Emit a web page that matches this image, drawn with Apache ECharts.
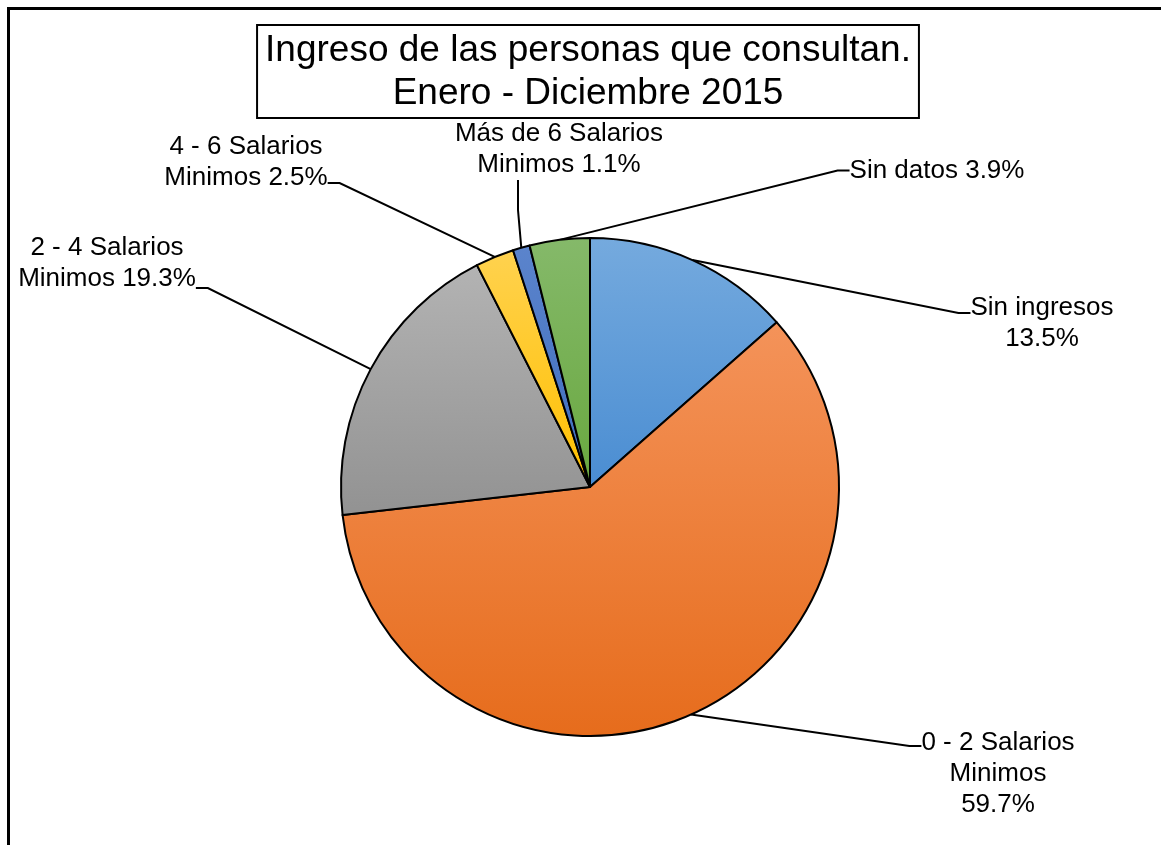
<!DOCTYPE html>
<html>
<head>
<meta charset="utf-8">
<script src="https://cdn.jsdelivr.net/npm/echarts@6/dist/echarts.min.js"></script>
<style>
  html, body { margin: 0; padding: 0; background: #fff; }
  #frame {
    position: absolute; left: 7px; top: 7px; width: 1151px; height: 845px;
    border-top: 3px solid #000; border-left: 3px solid #000;
  }
  #chart { position: absolute; left: 0; top: 0; width: 1162px; height: 845px; }
</style>
</head>
<body>
<div id="frame"></div>
<div id="chart"></div>
<script>
// Datos del gráfico
const categorias = [
  "Sin ingresos",
  "0 - 2 Salarios Minimos",
  "2 - 4 Salarios Minimos",
  "4 - 6 Salarios Minimos",
  "Más de 6 Salarios Minimos",
  "Sin datos"
];
const etiquetas = [
  "Sin ingresos\n",
  "0 - 2 Salarios\nMinimos\n",
  "2 - 4 Salarios\nMinimos ",
  "4 - 6 Salarios\nMinimos ",
  "Más de 6 Salarios\nMinimos ",
  "Sin datos "
];
const porcentajes = [13.5, 59.7, 19.3, 2.5, 1.1, 3.9];

// Colores estilo Excel (claro arriba, oscuro abajo)
const colores = [
  ["#75aade", "#4a8dd2"],
  ["#f4935a", "#e66c1c"],
  ["#b3b3b3", "#929292"],
  ["#ffd24f", "#ffc000"],
  ["#5b84cc", "#3f6dbe"],
  ["#85b96a", "#69a83f"]
];

// Posición de cada etiqueta: [centro x, borde superior de la caja]
const posEtiquetas = [
  [1042, 272],
  [998, 672],
  [107, 232],
  [246, 131],
  [518, 118],
  [937, 155]
];
// Relleno [arriba, derecha, abajo, izquierda] para ajustar el punto de la línea guía
const rellenoEtiquetas = [
  [20, 0, 0, 0],
  [55, 0, 0, 0],
  [0, 0, 50, 0],
  [0, 0, 42, 0],
  [0, 0, 0, 82],
  [0, 0, 0, 0]
];
const largoGuia = [12, 12, 12, 12, 30, 12];

const chart = echarts.init(document.getElementById("chart"));

const option = {
  animation: false,
  graphic: [
    {
      type: "text",
      x: 588,
      y: 25,
      style: {
        text: "Ingreso de las personas que consultan.\nEnero - Diciembre 2015",
        align: "center",
        verticalAlign: "top",
        font: "37px 'Liberation Sans', Arial, sans-serif",
        lineHeight: 43,
        fill: "#000",
        borderColor: "#000",
        borderWidth: 2,
        padding: [4, 8, 3, 8]
      }
    }
  ],
  series: [
    {
      type: "pie",
      center: [590, 487],
      radius: 249,
      startAngle: 90,
      clockwise: true,
      itemStyle: { borderColor: "#000", borderWidth: 2 },
      label: {
        show: true,
        color: "#000",
        fontFamily: "'Liberation Sans', Arial, sans-serif",
        fontSize: 26,
        lineHeight: 31,
        align: "center",
        formatter: function (p) {
          return etiquetas[p.dataIndex] + porcentajes[p.dataIndex].toFixed(1) + "%";
        }
      },
      labelLine: {
        show: true,
        length: 20,
        length2: 12,
        smooth: false,
        lineStyle: { color: "#000", width: 2 }
      },
      labelLayout: function (params) {
        const pos = posEtiquetas[params.dataIndex];
        return {
          x: pos[0],
          y: pos[1],
          align: "center",
          verticalAlign: "top"
        };
      },
      data: categorias.map(function (nombre, i) {
        return {
          name: nombre,
          value: porcentajes[i],
          label: { padding: rellenoEtiquetas[i] },
          labelLine: { length2: largoGuia[i] },
          itemStyle: {
            color: new echarts.graphic.LinearGradient(0, 0, 0, 1, [
              { offset: 0, color: colores[i][0] },
              { offset: 1, color: colores[i][1] }
            ])
          }
        };
      })
    }
  ]
};

chart.setOption(option);
</script>
</body>
</html>
